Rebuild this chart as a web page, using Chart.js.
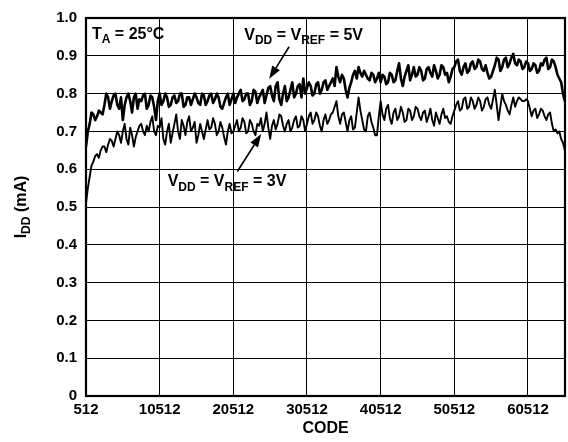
<!DOCTYPE html>
<html>
<head>
<meta charset="utf-8">
<script src="https://cdn.jsdelivr.net/npm/chart.js@4/dist/chart.umd.min.js"></script>
<style>
html, body { margin: 0; padding: 0; background: #fff; }
canvas { display: block; }
</style>
</head>
<body>
<canvas id="chart" width="568" height="442"></canvas>
<script>
// donnees (IDD en mA), un point tous les 250 codes a partir de 512
const codeStart = 512;
const codeStep = 250;

const vdd5 = [
  0.66, 0.70, 0.72, 0.75, 0.745, 0.73, 0.74, 0.755, 0.75, 0.745,
  0.77, 0.80, 0.79, 0.76, 0.78, 0.795, 0.80, 0.77, 0.76, 0.79,
  0.73, 0.77, 0.79, 0.80, 0.78, 0.75, 0.79, 0.80, 0.76, 0.785,
  0.78, 0.795, 0.80, 0.76, 0.77, 0.795, 0.79, 0.765, 0.73, 0.78,
  0.80, 0.77, 0.78, 0.80, 0.79, 0.765, 0.77, 0.79, 0.795, 0.775,
  0.78, 0.80, 0.80, 0.765, 0.77, 0.79, 0.79, 0.77, 0.785, 0.80,
  0.79, 0.775, 0.77, 0.80, 0.795, 0.77, 0.78, 0.795, 0.80, 0.775,
  0.785, 0.80, 0.79, 0.765, 0.76, 0.775, 0.79, 0.80, 0.77, 0.785,
  0.80, 0.775, 0.79, 0.80, 0.81, 0.78, 0.785, 0.80, 0.80, 0.77,
  0.78, 0.81, 0.805, 0.775, 0.79, 0.80, 0.81, 0.775, 0.795, 0.815,
  0.82, 0.795, 0.78, 0.82, 0.83, 0.785, 0.77, 0.80, 0.82, 0.78,
  0.79, 0.81, 0.83, 0.79, 0.80, 0.82, 0.825, 0.79, 0.84, 0.80,
  0.815, 0.83, 0.82, 0.795, 0.80, 0.825, 0.83, 0.80, 0.81, 0.83,
  0.835, 0.81, 0.82, 0.83, 0.84, 0.82, 0.87, 0.845, 0.83, 0.85,
  0.84, 0.81, 0.79, 0.815, 0.83, 0.85, 0.86, 0.84, 0.87, 0.855,
  0.845, 0.86, 0.85, 0.84, 0.835, 0.855, 0.85, 0.83, 0.84, 0.855,
  0.83, 0.85, 0.845, 0.825, 0.83, 0.855, 0.85, 0.83, 0.835, 0.86,
  0.88, 0.84, 0.82, 0.845, 0.86, 0.875, 0.835, 0.85, 0.87, 0.845,
  0.85, 0.87, 0.86, 0.835, 0.84, 0.865, 0.87, 0.855, 0.845, 0.875,
  0.86, 0.84, 0.85, 0.875, 0.87, 0.85, 0.855, 0.83, 0.845, 0.865,
  0.87, 0.885, 0.89, 0.86, 0.85, 0.87, 0.88, 0.855, 0.86, 0.88,
  0.885, 0.865, 0.87, 0.89, 0.885, 0.865, 0.86, 0.875, 0.855, 0.84,
  0.845, 0.86, 0.875, 0.895, 0.89, 0.86, 0.87, 0.89, 0.895, 0.87,
  0.88, 0.895, 0.905, 0.88, 0.875, 0.89, 0.885, 0.865, 0.87, 0.885,
  0.88, 0.86, 0.865, 0.88, 0.875, 0.855, 0.86, 0.88, 0.875, 0.89,
  0.895, 0.865, 0.87, 0.89, 0.885, 0.87, 0.85, 0.84, 0.83, 0.80,
  0.78
];

const vdd3 = [
  0.51, 0.55, 0.58, 0.61, 0.62, 0.635, 0.64, 0.63, 0.65, 0.66,
  0.66, 0.645, 0.665, 0.68, 0.675, 0.66, 0.68, 0.70, 0.69, 0.67,
  0.70, 0.72, 0.68, 0.665, 0.71, 0.69, 0.66, 0.685, 0.70, 0.715,
  0.72, 0.70, 0.69, 0.715, 0.70, 0.725, 0.74, 0.70, 0.69, 0.715,
  0.71, 0.735, 0.68, 0.665, 0.70, 0.72, 0.67, 0.695, 0.72, 0.745,
  0.70, 0.68, 0.73, 0.715, 0.69, 0.725, 0.74, 0.70, 0.71, 0.725,
  0.67, 0.69, 0.72, 0.70, 0.68, 0.705, 0.73, 0.705, 0.71, 0.735,
  0.72, 0.69, 0.70, 0.725, 0.71, 0.685, 0.665, 0.70, 0.72, 0.695,
  0.70, 0.715, 0.73, 0.70, 0.71, 0.735, 0.725, 0.695, 0.70, 0.73,
  0.72, 0.70, 0.69, 0.72, 0.715, 0.735, 0.70, 0.72, 0.75, 0.71,
  0.68, 0.715, 0.73, 0.705, 0.72, 0.745, 0.74, 0.715, 0.70, 0.72,
  0.73, 0.70, 0.71, 0.73, 0.74, 0.71, 0.715, 0.74, 0.73, 0.70,
  0.72, 0.74, 0.75, 0.72, 0.73, 0.75, 0.74, 0.715, 0.70, 0.73,
  0.745, 0.72, 0.73, 0.745, 0.75, 0.765, 0.78, 0.74, 0.72, 0.745,
  0.75, 0.725, 0.70, 0.73, 0.74, 0.705, 0.71, 0.75, 0.79, 0.755,
  0.73, 0.705, 0.70, 0.74, 0.75, 0.725, 0.71, 0.69, 0.69, 0.74,
  0.78, 0.745, 0.73, 0.76, 0.77, 0.735, 0.72, 0.75, 0.76, 0.73,
  0.74, 0.765, 0.75, 0.725, 0.73, 0.76, 0.755, 0.73, 0.74, 0.765,
  0.76, 0.74, 0.73, 0.75, 0.755, 0.725, 0.74, 0.76, 0.73, 0.715,
  0.75, 0.735, 0.72, 0.745, 0.76, 0.735, 0.74, 0.725, 0.72, 0.74,
  0.755, 0.77, 0.78, 0.755, 0.76, 0.785, 0.79, 0.76, 0.765, 0.79,
  0.78, 0.76, 0.77, 0.79, 0.78, 0.755, 0.765, 0.785, 0.79, 0.77,
  0.76, 0.785, 0.81, 0.77, 0.73, 0.765, 0.80, 0.78, 0.77, 0.755,
  0.745, 0.77, 0.79, 0.765, 0.78, 0.79, 0.785, 0.78, 0.78, 0.785,
  0.78, 0.76, 0.74, 0.755, 0.76, 0.735, 0.745, 0.76, 0.755, 0.74,
  0.73, 0.745, 0.75, 0.72, 0.70, 0.705, 0.695, 0.70, 0.68, 0.67,
  0.65
];

const xTicks = [512, 10512, 20512, 30512, 40512, 50512, 60512];
const yTicks = [0, 0.1, 0.2, 0.3, 0.4, 0.5, 0.6, 0.7, 0.8, 0.9, 1.0];
const yTickLabels = ['0', '0.1', '0.2', '0.3', '0.4', '0.5', '0.6', '0.7', '0.8', '0.9', '1.0'];

const codes = vdd5.map((_, i) => codeStart + i * codeStep);
const toPoints = arr => arr.map((v, i) => ({ x: codes[i], y: v }));

const FONT = '"Liberation Sans", Arial, Helvetica, sans-serif';

// texte avec indices
function drawRich(ctx, x, y, parts, size) {
  let cx = x;
  parts.forEach(p => {
    const s = p.sub ? size * 0.75 : size;
    ctx.font = 'bold ' + s + 'px ' + FONT;
    ctx.fillText(p.t, cx, p.sub ? y + size * 0.28 : y);
    cx += ctx.measureText(p.t).width;
  });
  return cx - x;
}
function richWidth(ctx, parts, size) {
  let w = 0;
  parts.forEach(p => {
    ctx.font = 'bold ' + (p.sub ? size * 0.75 : size) + 'px ' + FONT;
    w += ctx.measureText(p.t).width;
  });
  return w;
}

function drawArrow(ctx, x1, y1, x2, y2) {
  const a = Math.atan2(y2 - y1, x2 - x1);
  const len = 13, half = 4.5;
  const bx = x2 - len * Math.cos(a), by = y2 - len * Math.sin(a);
  ctx.lineWidth = 1.6;
  ctx.beginPath();
  ctx.moveTo(x1, y1);
  ctx.lineTo(bx, by);
  ctx.stroke();
  ctx.beginPath();
  ctx.moveTo(x2, y2);
  ctx.lineTo(bx + half * Math.sin(a), by - half * Math.cos(a));
  ctx.lineTo(bx - half * Math.sin(a), by + half * Math.cos(a));
  ctx.closePath();
  ctx.fill();
}

// annotations en unites de donnees (code, mA)
const notes = [
  { x: 1323, y: 0.945, parts: [{ t: 'T' }, { t: 'A', sub: true }, { t: ' = 25°C' }] },
  { x: 21998, y: 0.943, parts: [{ t: 'V' }, { t: 'DD', sub: true }, { t: ' = V' }, { t: 'REF', sub: true }, { t: ' = 5V' }] },
  { x: 11593, y: 0.555, parts: [{ t: 'V' }, { t: 'DD', sub: true }, { t: ' = V' }, { t: 'REF', sub: true }, { t: ' = 3V' }] }
];
const arrows = [
  { from: [28080, 0.924], to: [25377, 0.839] },
  { from: [21053, 0.594], to: [24296, 0.693] }
];

const decor = {
  id: 'decor',
  afterDraw(chart) {
    const ctx = chart.ctx;
    const xs = chart.scales.x, ys = chart.scales.y;
    const a = chart.chartArea;
    ctx.save();
    ctx.strokeStyle = '#000';
    ctx.fillStyle = '#000';
    ctx.lineWidth = 2.2;
    ctx.strokeRect(a.left, a.top, a.right - a.left, a.bottom - a.top);

    ctx.textBaseline = 'alphabetic';
    ctx.textAlign = 'left';
    notes.forEach(n => drawRich(ctx, xs.getPixelForValue(n.x), ys.getPixelForValue(n.y), n.parts, 16));
    arrows.forEach(ar => drawArrow(ctx,
      xs.getPixelForValue(ar.from[0]), ys.getPixelForValue(ar.from[1]),
      xs.getPixelForValue(ar.to[0]), ys.getPixelForValue(ar.to[1])));

    // titre axe Y
    const parts = [{ t: 'I' }, { t: 'DD', sub: true }, { t: ' (mA)' }];
    const w = richWidth(ctx, parts, 16);
    ctx.translate(20, (a.top + a.bottom) / 2);
    ctx.rotate(-Math.PI / 2);
    drawRich(ctx, -w / 2, 6, parts, 16);
    ctx.restore();
  }
};

new Chart(document.getElementById('chart'), {
  type: 'line',
  data: {
    datasets: [
      { label: 'VDD = VREF = 5V', data: toPoints(vdd5), borderColor: '#000', borderWidth: 2.6, pointRadius: 0, tension: 0, borderJoinStyle: 'round' },
      { label: 'VDD = VREF = 3V', data: toPoints(vdd3), borderColor: '#000', borderWidth: 1.9, pointRadius: 0, tension: 0, borderJoinStyle: 'round' }
    ]
  },
  options: {
    responsive: false,
    animation: false,
    layout: { padding: { left: 0, right: 3, top: 12, bottom: 0 } },
    plugins: { legend: { display: false }, tooltip: { enabled: false } },
    scales: {
      x: {
        type: 'linear',
        min: 512,
        max: 65535,
        afterBuildTicks: s => { s.ticks = xTicks.map(v => ({ value: v })); },
        afterFit: s => { s.height = 46; },
        grid: { color: '#000', lineWidth: 1, drawTicks: false },
        border: { display: false },
        ticks: { color: '#000', padding: 5, maxRotation: 0, autoSkip: false, font: { family: FONT, size: 15, weight: 'bold' }, callback: v => String(v) },
        title: { display: true, text: 'CODE', color: '#000', padding: { top: 4, bottom: 4 }, font: { family: FONT, size: 16, weight: 'bold' } }
      },
      y: {
        min: 0,
        max: 1,
        afterBuildTicks: s => { s.ticks = yTicks.map(v => ({ value: v })); },
        afterFit: s => { s.width = 86; },
        grid: { color: '#000', lineWidth: 1, drawTicks: false },
        border: { display: false },
        ticks: { color: '#000', padding: 9, autoSkip: false, font: { family: FONT, size: 15, weight: 'bold' },
          callback: v => yTickLabels[yTicks.findIndex(t => Math.abs(t - v) < 1e-6)] }
      }
    }
  },
  plugins: [decor]
});
</script>
</body>
</html>
